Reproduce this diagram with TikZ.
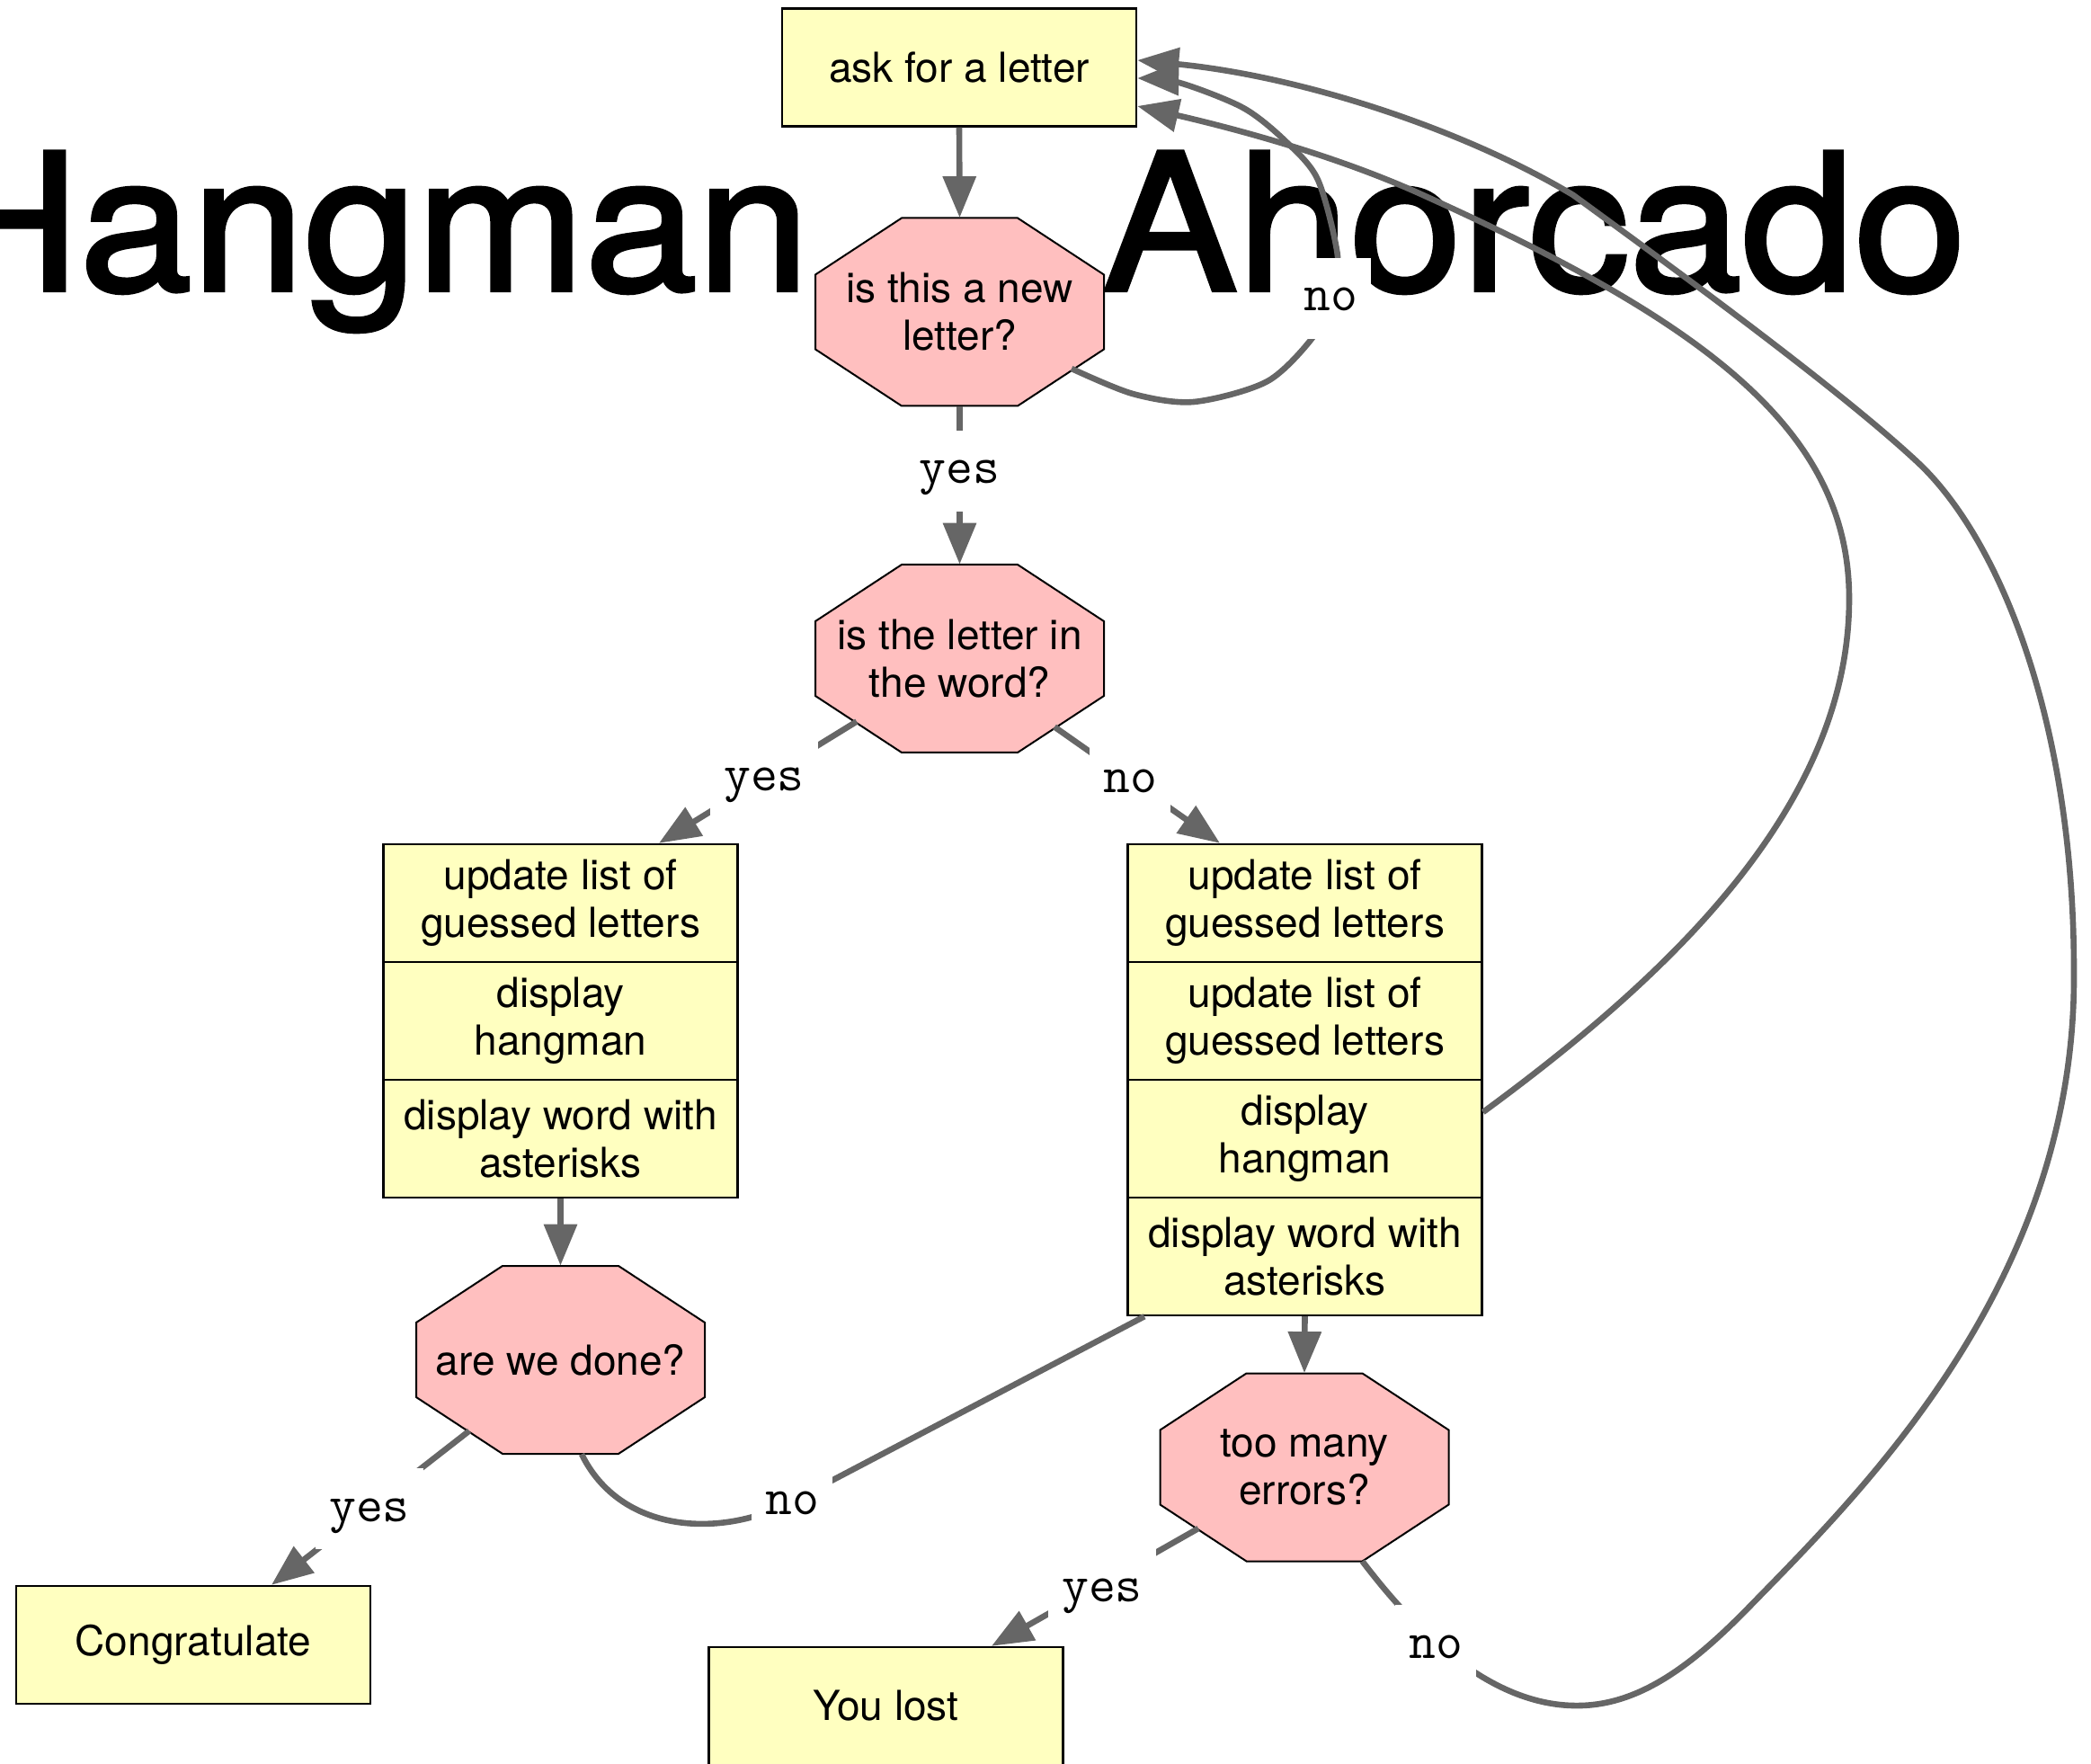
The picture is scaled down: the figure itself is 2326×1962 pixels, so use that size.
\documentclass[tikz,border=0pt]{standalone}
\usepackage{fontspec}
\setmainfont{TeX Gyre Heros}
\newfontface\titleface{TeX Gyre Heros}[FakeBold=2]
\usetikzlibrary{arrows.meta,calc}
\definecolor{boxyellow}{HTML}{FFFFC0}
\definecolor{octpink}{HTML}{FFBFBF}
\definecolor{conngray}{HTML}{666666}
\newcommand{\bodyf}{\fontsize{23}{26.5}\selectfont}
\newcommand{\lblf}{\ttfamily\fontsize{29}{29}\selectfont}
\newcommand{\titlef}{\titleface\fontsize{106}{106}\selectfont}
\newcommand{\octnode}[4]{%
  \path[octshape] (#2-64.5,#3-104.5) -- (#2+64.5,#3-104.5) -- (#2+160.5,#3-41.5) -- (#2+160.5,#3+41.5)
     -- (#2+64.5,#3+104.5) -- (#2-64.5,#3+104.5) -- (#2-160.5,#3+41.5) -- (#2-160.5,#3-41.5) -- cycle;
  \node[octtext] (#1) at (#2,#3) {#4};}
\begin{document}
\begin{tikzpicture}[x=0.5pt,y=-0.5pt,
  box/.style={draw=black,line width=1.2pt,fill=boxyellow,minimum width=197pt,minimum height=65.5pt,inner sep=0pt,align=center,font=\bodyf},
  octtext/.style={minimum width=160.5pt,minimum height=104.5pt,inner sep=0pt,align=center,font=\bodyf},
  octshape/.style={fill=octpink,draw=black,line width=1pt},
  conn/.style={draw=conngray,line width=3.3pt},
  arr/.style={-{Triangle[length=23pt,width=18pt]}},
  lbl/.style={fill=white,font=\lblf,inner sep=7.5pt,text height=22pt,text depth=8pt},
  titletext/.style={font=\titlef,inner sep=0pt}]
\useasboundingbox (0,0) rectangle (2326,1962);
\clip (0,0) rectangle (2326,1962);
% title
\node[titletext,anchor=base east] (hangman) at (901,323) {\scalebox{1.06}[1]{Hangman}};
\node[titletext,anchor=base west] (ahorcado) at (1226,323) {\scalebox{1.06}[1]{Ahorcado}};
% nodes
\node[box] (ask) at (1067,75) {ask for a letter};
\octnode{q2}{1067.5}{347}{is this a new\\letter?}
\octnode{q3}{1067.5}{732.5}{is the letter in\\the word?}
\node[box] (L1) at (623.5,1004.5) {update list of\\guessed letters};
\node[box] (L2) at (623.5,1135.5) {display\\hangman};
\node[box] (L3) at (623.5,1266.5) {display word with\\asterisks};
\node[box] (R1) at (1451.5,1004.5) {update list of\\guessed letters};
\node[box] (R2) at (1451.5,1135.5) {update list of\\guessed letters};
\node[box] (R3) at (1451.5,1266.5) {display\\hangman};
\node[box] (R4) at (1451.5,1397.5) {display word with\\asterisks};
\octnode{q5}{623.5}{1512.5}{are we done?}
\octnode{q4}{1451}{1632}{too many\\errors?}
\node[box] (cong) at (215,1829.5) {Congratulate};
\node[box] (lost) at (985.5,1897.5) {You lost};
% anchor points
\coordinate (q2se) at ($(q2.center)+(124.5,63)$);
\coordinate (q3sw) at ($(q3.center)+(-114.5,70)$);
\coordinate (q3se) at ($(q3.center)+(105.5,76)$);
\coordinate (q5sw) at ($(q5.center)+(-101.5,79)$);
\coordinate (q5b) at ($(q5.south)+(23.5,0)$);
\coordinate (q4sw) at ($(q4.center)+(-118,68)$);
\coordinate (q4se) at ($(q4.center)+(64.5,104.5)$);
\coordinate (askA) at ($(ask.east)+(0,-8)$);
\coordinate (askB) at ($(ask.east)+(0,12)$);
\coordinate (askC) at ($(ask.east)+(0,43)$);
\coordinate (L1in) at ($(L1.north)+(109.5,0)$);
\coordinate (R1in) at ($(R1.north)+(-94.5,0)$);
\coordinate (R3out) at ($(R3.east)+(0,-29.5)$);
\coordinate (R4in) at ($(R4.south)+(-178.5,0)$);
\coordinate (congin) at ($(cong.north)+(87,0)$);
\coordinate (lostin) at ($(lost.north)+(117.5,0)$);
% connectors
\draw[conn,arr] (ask.south) -- (q2.north);
\draw[conn,arr] (q2.south) -- (q3.north);
\draw[conn,arr] (q3sw) -- (L1in);
\draw[conn,arr] (q3se) -- (R1in);
\draw[conn,arr] (L3.south) -- (q5.north);
\draw[conn,arr] (R4.south) -- (q4.north);
\draw[conn,arr] (q5sw) -- (congin);
\draw[conn,arr] (q4sw) -- (lostin);
\draw[conn] (q5b) .. controls (690,1705) and (800,1712) .. (881,1670) -- (R4in);
\draw[conn,arr] plot[smooth] coordinates {(q2se) (1260,438) (1328,447) (1410,424) (1462,373) (1480,330) (1488,285) (1466,200) (1430,157) (1383,120) (1312,92) (askB)};
\draw[conn,arr] (R3out) .. controls (1850,1090) and (2057,900) .. (2057,666)
   .. controls (2057,480) and (1900,360) .. (1583,217)
   .. controls (1480,170) and (1360,140) .. (askC);
\draw[conn,arr] (q4se) .. controls (1575,1815) and (1660,1900) .. (1759,1897)
   .. controls (1830,1895) and (1890,1845) .. (1950,1783)
   .. controls (2080,1650) and (2310,1420) .. (2307,1080)
   .. controls (2307,800) and (2223,598) .. (2133,514)
   .. controls (2043,430) and (1850,290) .. (1750,217)
   .. controls (1630,145) and (1450,85) .. (askA);
% labels
\node[lbl] (y1) at (1067.5,524) {yes};
\node[lbl] (n1) at (1480,332) {no};
\node[lbl] (y2) at (850,866) {yes};
\node[lbl] (n2) at (1257,868) {no};
\node[lbl] (y3) at (411,1678) {yes};
\node[lbl] (n3) at (881,1670) {no};
\node[lbl] (y4) at (1226,1767) {yes};
\node[lbl] (n4) at (1597,1830) {no};
\end{tikzpicture}
\end{document}
